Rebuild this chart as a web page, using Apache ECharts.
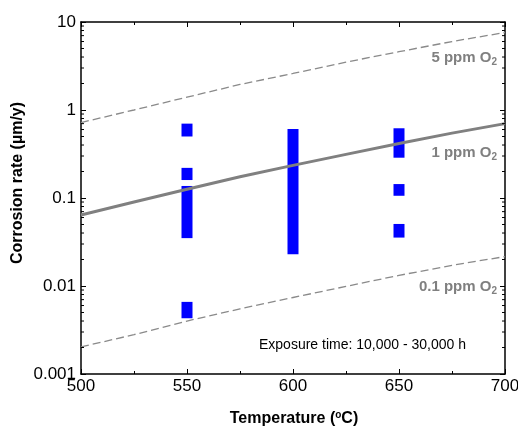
<!DOCTYPE html>
<html>
<head>
<meta charset="utf-8">
<script src="https://cdn.jsdelivr.net/npm/echarts@6/dist/echarts.min.js"></script>
<style>
html,body{margin:0;padding:0;background:#fff;}
#chart{width:518px;height:427px;}
</style>
</head>
<body>
<div id="chart"></div>
<script>
// ---- data ----
var xMin = 500, xMax = 700;
var yMin = 0.001, yMax = 10;
var xTickLabels = ['500', '550', '600', '650', '700'];
var yTickLabels = ['0.001', '0.01', '0.1', '1', '10'];
var lineTemps = [500, 525, 550, 575, 600, 625, 650, 675, 700];
var ppm5 = [0.72, 1.0, 1.4, 1.95, 2.6, 3.5, 4.6, 6.0, 7.6];
var ppm1 = [0.064, 0.090, 0.126, 0.174, 0.235, 0.313, 0.417, 0.546, 0.70];
var ppm01 = [0.00203, 0.0028, 0.0040, 0.0055, 0.0074, 0.0099, 0.0132, 0.0172, 0.0216];
// measured corrosion-rate ranges: [temperature, low, high]
var barTemps = [550, 550, 550, 550, 600, 650, 650, 650];
var barLow  = [0.5, 0.16, 0.035, 0.0043, 0.023, 0.287, 0.106, 0.0355];
var barHigh = [0.7, 0.22, 0.137, 0.0066, 0.61, 0.62, 0.144, 0.0507];
// log minor tick positions (2..9 x 10^k)
var minorYTicks = [];
[0.001, 0.01, 0.1, 1].forEach(function (d) {
  [2, 3, 4, 5, 6, 7, 8, 9].forEach(function (m) { minorYTicks.push(+(m * d).toPrecision(3)); });
});

var FONT = '"Liberation Sans", Arial, sans-serif';
var chart = echarts.init(document.getElementById('chart'));

function zip(xs, ys) { return xs.map(function (x, i) { return [x, ys[i]]; }); }

var axisLineStyle = { color: '#000', width: 1.5 };
var tickStyle = { color: '#000', width: 1 };

function lineLabel(txt, y) {
  return {
    type: 'text', x: 497, y: y,
    style: {
      text: '{b|' + txt + '}{s|2}', align: 'right', verticalAlign: 'middle',
      rich: {
        b: { fontSize: 15, fontWeight: 'bold', fontFamily: FONT, fill: '#808080', lineHeight: 18, verticalAlign: 'middle' },
        s: { fontSize: 10, fontWeight: 'bold', fontFamily: FONT, fill: '#808080', lineHeight: 10, padding: [8, 0, 0, 0], verticalAlign: 'middle' }
      }
    }
  };
}

var option = {
  animation: false,
  backgroundColor: '#fff',
  grid: { left: 81, right: 13, top: 22, bottom: 53, containLabel: false, outerBoundsMode: 'none' },
  xAxis: [
    {
      type: 'value', min: xMin, max: xMax, interval: 50, position: 'bottom',
      axisLine: { show: true, lineStyle: axisLineStyle },
      axisTick: { show: true, inside: true, length: 5, lineStyle: tickStyle },
      minorTick: { show: true, splitNumber: 2, length: 3, lineStyle: tickStyle },
      splitLine: { show: false },
      axisLabel: {
        fontSize: 17, color: '#000', fontFamily: FONT, margin: 4,
        formatter: function (v) { return xTickLabels[Math.round((v - xMin) / 50)]; }
      }
    },
    {
      type: 'value', min: xMin, max: xMax, interval: 50, position: 'top',
      axisLine: { show: true, lineStyle: axisLineStyle },
      axisTick: { show: true, inside: true, length: 5, lineStyle: tickStyle },
      minorTick: { show: true, splitNumber: 2, length: 3, lineStyle: tickStyle },
      splitLine: { show: false },
      axisLabel: { show: false }
    }
  ],
  yAxis: [
    {
      type: 'log', logBase: 10, min: yMin, max: yMax, position: 'left',
      axisLine: { show: true, lineStyle: axisLineStyle },
      axisTick: { show: true, inside: true, length: 5, lineStyle: tickStyle },
      splitLine: { show: false },
      axisLabel: {
        fontSize: 17, color: '#000', fontFamily: FONT, margin: 5,
        formatter: function (v) { return yTickLabels[Math.round(Math.log10(v)) + 3]; }
      }
    },
    {
      type: 'log', logBase: 10, min: yMin, max: yMax, position: 'right',
      axisLine: { show: true, lineStyle: axisLineStyle },
      axisTick: { show: true, inside: true, length: 5, lineStyle: tickStyle },
      splitLine: { show: false },
      axisLabel: { show: false }
    }
  ],
  series: [
    {
      type: 'line', name: '5 ppm', data: zip(lineTemps, ppm5), smooth: false,
      showSymbol: false, symbol: 'none',
      lineStyle: { color: '#8a8a8a', width: 1.3, type: [8, 4] }, z: 3
    },
    {
      type: 'line', name: '0.1 ppm', data: zip(lineTemps, ppm01), smooth: false,
      showSymbol: false, symbol: 'none',
      lineStyle: { color: '#8a8a8a', width: 1.3, type: [8, 4] }, z: 3
    },
    {
      type: 'custom', name: 'measured', z: 4,
      data: barTemps.map(function (t, i) { return [t, barLow[i], barHigh[i]]; }),
      renderItem: function (params, api) {
        var top = api.coord([api.value(0), api.value(2)]);
        var bot = api.coord([api.value(0), api.value(1)]);
        var w = 11;
        return {
          type: 'rect',
          shape: { x: top[0] - w / 2, y: top[1], width: w, height: bot[1] - top[1] },
          style: { fill: '#0000ff' }
        };
      }
    },
    {
      type: 'line', name: '1 ppm', data: zip(lineTemps, ppm1), smooth: false,
      showSymbol: false, symbol: 'none',
      lineStyle: { color: '#808080', width: 3, join: 'round' }, z: 5
    },
    {
      type: 'custom', name: 'minorTicks', z: 6, silent: true,
      data: minorYTicks.map(function (v) { return [xMin, v]; }),
      renderItem: function (params, api) {
        var l = api.coord([xMin, api.value(1)]);
        var r = api.coord([xMax, api.value(1)]);
        return {
          type: 'group',
          children: [
            { type: 'line', shape: { x1: l[0], y1: l[1], x2: l[0] + 3, y2: l[1] }, style: { stroke: '#000', lineWidth: 1 } },
            { type: 'line', shape: { x1: r[0] - 3, y1: r[1], x2: r[0], y2: r[1] }, style: { stroke: '#000', lineWidth: 1 } }
          ]
        };
      }
    }
  ],
  graphic: [
    {
      type: 'text', x: 18, y: 183, rotation: Math.PI / 2,
      style: {
        text: 'Corrosion rate (\u00b5m/y)', fill: '#000',
        font: 'bold 16px ' + FONT, align: 'center', verticalAlign: 'middle'
      }
    },
    {
      type: 'text', x: 294, y: 419,
      style: {
        text: '{t|Temperature (}{s|o}{t|C)}', align: 'center', verticalAlign: 'middle',
        rich: {
          t: { fontSize: 16, fontWeight: 'bold', fontFamily: FONT, fill: '#000', lineHeight: 18, verticalAlign: 'middle' },
          s: { fontSize: 10, fontWeight: 'bold', fontFamily: FONT, fill: '#000', lineHeight: 10, padding: [0, 0, 7, 0], verticalAlign: 'middle' }
        }
      }
    },
    {
      type: 'text', x: 259, y: 345,
      style: {
        text: 'Exposure time: 10,000 - 30,000 h', fill: '#000',
        font: '14px ' + FONT, align: 'left', verticalAlign: 'middle'
      }
    },
    lineLabel('5 ppm O', 58),
    lineLabel('1 ppm O', 153),
    lineLabel('0.1 ppm O', 287)
  ]
};
chart.setOption(option);
</script>
</body>
</html>
